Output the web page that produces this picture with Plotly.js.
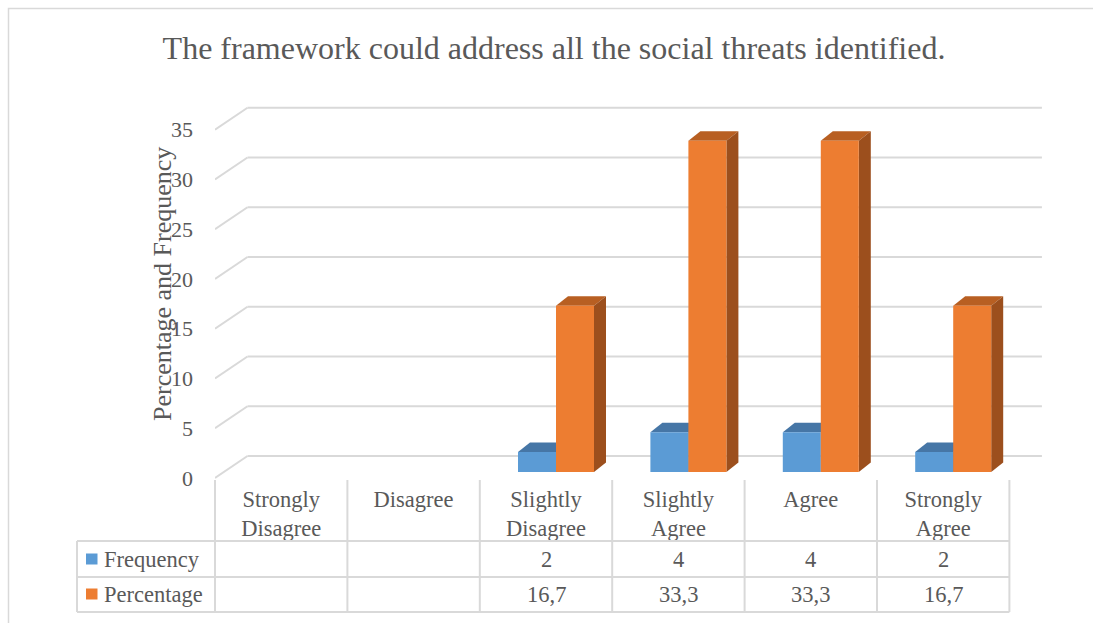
<!DOCTYPE html>
<html>
<head>
<meta charset="utf-8">
<script src="https://cdn.plot.ly/plotly-3.0.1.min.js"></script>
<style>html,body{margin:0;padding:0;background:#fff;}#chart{width:1093px;height:623px;}</style>
</head>
<body>
<div id="chart"></div>
<script>
// ---- data ----
const categories = ["Strongly Disagree", "Disagree", "Slightly Disagree", "Slightly Agree", "Agree", "Strongly Agree"];
const categoryLabels = ["Strongly<br>Disagree", "Disagree", "Slightly<br>Disagree", "Slightly<br>Agree", "Agree", "Strongly<br>Agree"];
const frequency = [null, null, 2, 4, 4, 2];
const percentage = [null, null, 16.7, 33.3, 33.3, 16.7];
const seriesNames = ["Frequency", "Percentage"];
const yTicks = [0, 5, 10, 15, 20, 25, 30, 35];
const titleText = "The framework could address all the social threats identified.";
const yTitleText = "Percentage and Frequency";

// ---- styling / geometry ----
const W = 1093, H = 623;
const FONT = "'Liberation Serif', 'Times New Roman', serif";
const TXT = "#595959";
const GRID = "#D9D9D9";
const fronts = ["#5B9BD5", "#ED7D31"];
const tops = ["#4676A6", "#B85F22"];
const sides = ["#3B6690", "#9C4F1D"];
const PXC = 132.4;   // pixels per category
const PYU = 9.95;    // pixels per unit
const X0PX = 225;    // bar plane: x=-0.5 pixel
const Y0PX = 472;    // bar plane: y=0 pixel
const FRONT_DX = -10 / PXC, FRONT_DY = -6 / PYU;
const BACK_DX = 22.5 / PXC, BACK_DY = 16 / PYU;
const BAR_DX = 12 / PXC, BAR_DY = 9.5 / PYU;
const BARGAP = 0.426;
const halfW = (1 - BARGAP) / 2;

const domL = 215, domR = 1045, domB = 483, domT = 100;
const xRange = [-0.5 + (domL - X0PX) / PXC, -0.5 + (domR - X0PX) / PXC];
const yRange = [(Y0PX - domB) / PYU, (Y0PX - domT) / PYU];
const px = v => v / W;
const py = v => 1 - v / H;

const idx = categories.map((_, i) => i);
const series = [frequency, percentage];

const traces = series.map((vals, s) => ({
  type: "bar",
  name: seriesNames[s],
  x: idx,
  y: vals,
  marker: {color: fronts[s], line: {width: 0}},
  hoverinfo: "skip"
}));

const shapes = [];
// chart border
shapes.push({type: "rect", xref: "paper", yref: "paper", x0: px(8.5), x1: px(1200), y0: py(8.5), y1: py(700),
  line: {color: GRID, width: 1.5}, fillcolor: "rgba(0,0,0,0)", layer: "below"});
// back-wall gridlines + floor diagonals
yTicks.forEach(v => {
  const fx = xRange[0], fy = v + FRONT_DY;
  const bx = -0.5 + BACK_DX, by = v + BACK_DY;
  shapes.push({type: "line", xref: "x", yref: "y", x0: fx, y0: fy, x1: bx, y1: by,
    line: {color: GRID, width: 2}, layer: "below"});
  shapes.push({type: "line", xref: "x", yref: "y", x0: bx, y0: by, x1: categories.length - 0.5 + BACK_DX, y1: by,
    line: {color: GRID, width: 2}, layer: "below"});
});
// 3D faces of bars
series.forEach((vals, s) => {
  vals.forEach((v, i) => {
    if (v === null) return;
    const xl = i - halfW + s * halfW, xr = xl + halfW;
    shapes.push({type: "path", xref: "x", yref: "y", layer: "below", line: {width: 0},
      fillcolor: tops[s],
      path: `M${xl},${v} L${xl + BAR_DX},${v + BAR_DY} L${xr + BAR_DX},${v + BAR_DY} L${xr},${v} Z`});
    shapes.push({type: "path", xref: "x", yref: "y", layer: "below", line: {width: 0},
      fillcolor: sides[s],
      path: `M${xr},0 L${xr},${v} L${xr + BAR_DX},${v + BAR_DY} L${xr + BAR_DX},${BAR_DY} Z`});
  });
});
// data table
const tblL = 77, rowTop = 541, rowMid = 577, rowBot = 612, hdrTop = 480;
const colEdges = [];
for (let k = 0; k <= categories.length; k++) colEdges.push(domL + k * PXC);
[rowTop, rowMid, rowBot].forEach(yy => shapes.push({type: "line", xref: "paper", yref: "paper",
  x0: px(tblL), x1: px(colEdges[colEdges.length - 1]), y0: py(yy), y1: py(yy), line: {color: GRID, width: 2}}));
shapes.push({type: "line", xref: "paper", yref: "paper", x0: px(tblL), x1: px(tblL), y0: py(rowTop), y1: py(rowBot),
  line: {color: GRID, width: 2}});
colEdges.forEach(xx => shapes.push({type: "line", xref: "paper", yref: "paper", x0: px(xx), x1: px(xx),
  y0: py(hdrTop), y1: py(rowBot), line: {color: GRID, width: 2}}));
// legend keys
const rowCenters = [559, 594];
rowCenters.forEach((yc, s) => shapes.push({type: "rect", xref: "paper", yref: "paper",
  x0: px(86), x1: px(97.5), y0: py(yc - 5.5), y1: py(yc + 5.5), line: {width: 0}, fillcolor: fronts[s]}));

const annotations = [];
annotations.push({text: yTitleText, textangle: -90, xref: "paper", yref: "paper", x: px(163), y: py(284),
  showarrow: false, font: {family: FONT, size: 26, color: TXT}, xanchor: "center", yanchor: "middle"});
seriesNames.forEach((nm, s) => annotations.push({text: nm, xref: "paper", yref: "paper", x: px(102), y: py(rowCenters[s]),
  xanchor: "left", yanchor: "middle", showarrow: false, font: {family: FONT, size: 22.5, color: TXT}}));
series.forEach((vals, s) => vals.forEach((v, i) => {
  if (v === null) return;
  annotations.push({text: String(v).replace(".", ","), xref: "x", yref: "paper", x: i + FRONT_DX, y: py(rowCenters[s]),
    xanchor: "center", yanchor: "middle", showarrow: false, font: {family: FONT, size: 22.5, color: TXT}});
}));

const layout = {
  width: W, height: H,
  margin: {l: 0, r: 0, t: 0, b: 0},
  paper_bgcolor: "#fff", plot_bgcolor: "#fff",
  showlegend: false,
  barmode: "group", bargap: BARGAP, bargroupgap: 0,
  title: {text: titleText, x: px(554), y: py(48), xanchor: "center", yanchor: "middle",
    font: {family: FONT, size: 32, color: TXT}},
  xaxis: {domain: [px(domL), px(domR)], range: xRange, type: "linear",
    tickvals: idx.map(i => i + FRONT_DX), ticktext: categoryLabels,
    showgrid: false, zeroline: false, showline: false, ticks: "",
    tickfont: {family: FONT, size: 22.5, color: TXT}, fixedrange: true},
  yaxis: {domain: [py(domB), py(domT)], range: yRange,
    tickvals: yTicks.map(v => v + FRONT_DY), ticktext: yTicks.map(String),
    showgrid: false, zeroline: false, showline: false, ticks: "", ticklabelstandoff: 21,
    tickfont: {family: FONT, size: 22, color: TXT}, fixedrange: true},
  shapes: shapes,
  annotations: annotations
};

Plotly.newPlot("chart", traces, layout, {displayModeBar: false, staticPlot: true});
</script>
</body>
</html>
